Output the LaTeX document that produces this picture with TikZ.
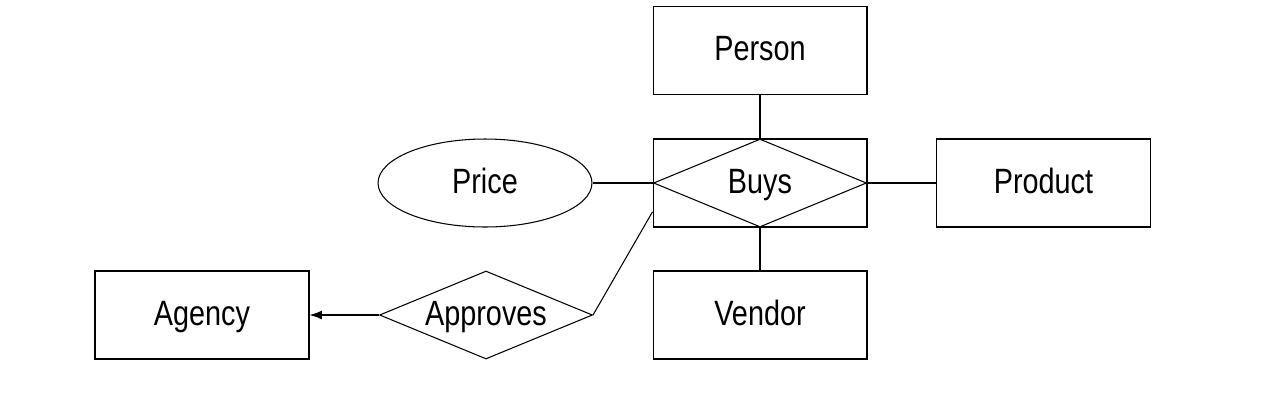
\documentclass[tikz,border=0pt]{standalone}
\usepackage{fontspec}
\setmainfont{Liberation Sans}
\usetikzlibrary{arrows.meta,shapes.geometric}

\newcommand{\erlabel}[1]{\scalebox{0.82}[1]{#1}}

\begin{document}
\begin{tikzpicture}[x=0.02cm,y=-0.02cm,line width=0.6pt,
        font=\fontsize{20}{24}\selectfont,
        every node/.style={text height=13pt,text depth=1.5pt},
        entity/.style={draw,rectangle,minimum width=4.28cm,minimum height=1.76cm,inner sep=0pt},
        relation/.style={draw,diamond,aspect=2.43,minimum width=4.26cm,minimum height=1.76cm,inner sep=0pt},
        attrib/.style={draw,ellipse,minimum width=4.28cm,minimum height=1.76cm,inner sep=0pt}]

  \useasboundingbox (0,0) rectangle (1270,400);

  \node[entity] (person) at (760,50.5) {\erlabel{Person}};
  \node[entity] (buysbox) at (760,183) {};
  \node[relation] (buys) at (760,183) {\erlabel{Buys}};
  \node[attrib] (price) at (485,183) {\erlabel{Price}};
  \node[entity] (product) at (1043.5,183) {\erlabel{Product}};
  \node[entity] (vendor) at (760,315) {\erlabel{Vendor}};
  \node[relation] (approves) at (486,315) {\erlabel{Approves}};
  \node[entity] (agency) at (202,315) {\erlabel{Agency}};

  \draw (person) -- (buysbox);
  \draw (buysbox) -- (vendor);
  \draw (price) -- (buys.west);
  \draw (buys.east) -- (product);
  \draw (approves.east) -- (buysbox.195);
  \draw[-{Latex[length=7pt,width=5pt]}] (approves.west) -- (agency.east);

\end{tikzpicture}
\end{document}
